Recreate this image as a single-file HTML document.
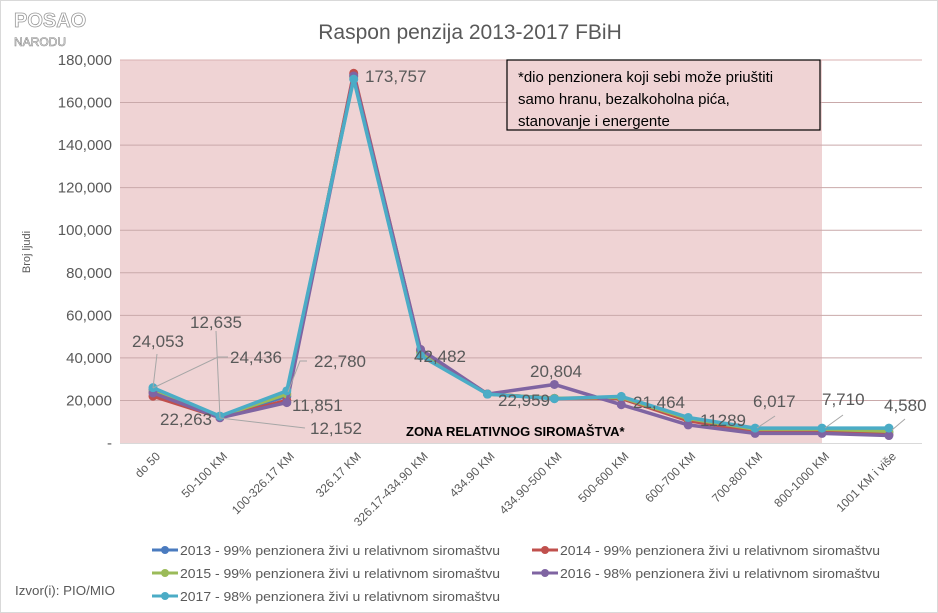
<!DOCTYPE html>
<html><head><meta charset="utf-8"><style>
body{margin:0;background:#fff}
svg{display:block;font-family:"Liberation Sans",sans-serif}
</style></head><body>
<svg id="s" width="938" height="613" viewBox="0 0 938 613">
<rect x="0.5" y="0.5" width="937" height="612" fill="#fff" stroke="#d9d9d9"/>
<text x="14" y="27" font-size="20" font-weight="bold" fill="#fff" stroke="#999" stroke-width="0.8">POSAO</text>
<text x="14" y="46" font-size="12" fill="#fff" stroke="#888" stroke-width="0.6">NARODU</text>
<text x="470" y="39" font-size="21" fill="#595959" text-anchor="middle">Raspon penzija 2013-2017 FBiH</text>
<rect x="120" y="60" width="702" height="383" fill="#efd3d4"/>
<g id="grid"></g>
<g id="yl" font-size="15" fill="#595959" text-anchor="end"></g>
<text x="30" y="252" font-size="11" fill="#595959" text-anchor="middle" transform="rotate(-90 30 252)">Broj ljudi</text>
<g id="xl" font-size="12" fill="#595959" text-anchor="end"></g>
<rect x="507" y="60" width="313" height="70" fill="#efd3d4" stroke="#000" stroke-width="1.2"/>
<text x="518" y="82" font-size="15" fill="#000">*dio penzionera koji sebi može priuštiti</text>
<text x="518" y="104" font-size="15" fill="#000">samo hranu, bezalkoholna pića,</text>
<text x="518" y="126" font-size="15" fill="#000">stanovanje i energente</text>
<text x="406" y="436" font-size="13" font-weight="bold" fill="#000">ZONA RELATIVNOG SIROMAŠTVA*</text>
<g id="ser"></g>
<g stroke="#a6a6a6" stroke-width="1" fill="none">
<path d="M157 354 L153 388"/><path d="M228 357 L218 357 L153 388"/><path d="M216 331 L220 418"/>
<path d="M220 418 L305 428"/><path d="M307 361 L300 361 L288 392"/>
<path d="M775 416 L757 428"/><path d="M843 415 L825 428"/><path d="M905 419 L892 430"/>
</g>
<g font-size="17" fill="#595959">
<text x="132" y="347">24,053</text><text x="190" y="328">12,635</text><text x="230" y="363">24,436</text>
<text x="314" y="367">22,780</text><text x="160" y="425">22,263</text><text x="292" y="411">11,851</text>
<text x="310" y="434">12,152</text><text x="365" y="82">173,757</text><text x="414" y="362">42,482</text>
<text x="498" y="406">22,959</text><text x="530" y="377">20,804</text><text x="633" y="408">21,464</text>
<text x="700" y="426">11289</text><text x="753" y="407">6,017</text><text x="822" y="405">7,710</text>
<text x="884" y="411">4,580</text>
</g>
<g id="leg" font-size="13" fill="#595959"></g>
<text x="15" y="595" font-size="13" fill="#595959" textLength="100" lengthAdjust="spacingAndGlyphs">Izvor(i): PIO/MIO</text>
</svg>
<script>
var NS="http://www.w3.org/2000/svg";
function el(t,a,p,txt){var e=document.createElementNS(NS,t);for(var k in a)e.setAttribute(k,a[k]);if(txt!=null)e.textContent=txt;document.getElementById(p).appendChild(e);return e;}
function Y(v){return 443-v*383/180000;}
function X(i){return 153+i*66.9;}
for(var v=0;v<=180000;v+=20000){var y=Y(v);
 if(v>0)el("line",{x1:120,x2:922,y1:y,y2:y,stroke:v==180000?"#d9b0b2":"#c9a9aa","stroke-width":1},"grid");
 el("text",{x:112,y:y+5},"yl",v==0?"-":v.toLocaleString("en-US"));}
el("line",{x1:120,x2:922,y1:443.5,y2:443.5,stroke:"#d9d9d9","stroke-width":1},"grid");
var cats=["do 50","50-100 KM","100-326.17 KM","326.17 KM","326.17-434.90 KM","434.90 KM","434.90-500 KM","500-600 KM","600-700 KM","700-800 KM","800-1000 KM","1001 KM i više"];
cats.forEach(function(c,i){var x=X(i)+8,y=457;el("text",{x:x,y:y,transform:"rotate(-45 "+x+" "+y+")"},"xl",c);});
var S=[
["#4a7bbf",[25000,12500,22000,173000,43000,23000,21000,21000,11000,6000,6000,5000]],
["#c0504d",[22000,12000,20000,173757,43500,23000,21000,21000,10500,5500,5500,4000]],
["#9bbb59",[24000,12500,23000,172000,42500,23000,21000,21500,11500,6500,6500,5500]],
["#7f64a2",[23500,11851,19000,172500,44000,23000,27500,18000,8500,4500,4500,3500]],
["#4bacc6",[26000,12635,24500,171000,41000,22959,20804,21900,12000,7000,7000,7000]]];
S.forEach(function(s){var p=s[1].map(function(v,i){return X(i)+","+Y(v);}).join(" ");
 el("polyline",{points:p,fill:"none",stroke:s[0],"stroke-width":3.5,"stroke-linejoin":"round"},"ser");
 s[1].forEach(function(v,i){el("circle",{cx:X(i),cy:Y(v),r:4.5,fill:s[0]},"ser");});});
var L=[[152,550,"2013 - 99% penzionera živi u relativnom siromaštvu"],[532,550,"2014 - 99% penzionera živi u relativnom siromaštvu"],[152,573,"2015 - 99% penzionera živi u relativnom siromaštvu"],[532,573,"2016 - 98% penzionera živi u relativnom siromaštvu"],[152,596,"2017 - 98% penzionera živi u relativnom siromaštvu"]];
L.forEach(function(l,i){var c=S[i][0];
 el("line",{x1:l[0],x2:l[0]+26,y1:l[1],y2:l[1],stroke:c,"stroke-width":3},"leg");
 el("circle",{cx:l[0]+13,cy:l[1],r:4,fill:c},"leg");
 el("text",{x:l[0]+28,y:l[1]+5,textLength:320,lengthAdjust:"spacingAndGlyphs"},"leg",l[2]);});
</script>
</body></html>
